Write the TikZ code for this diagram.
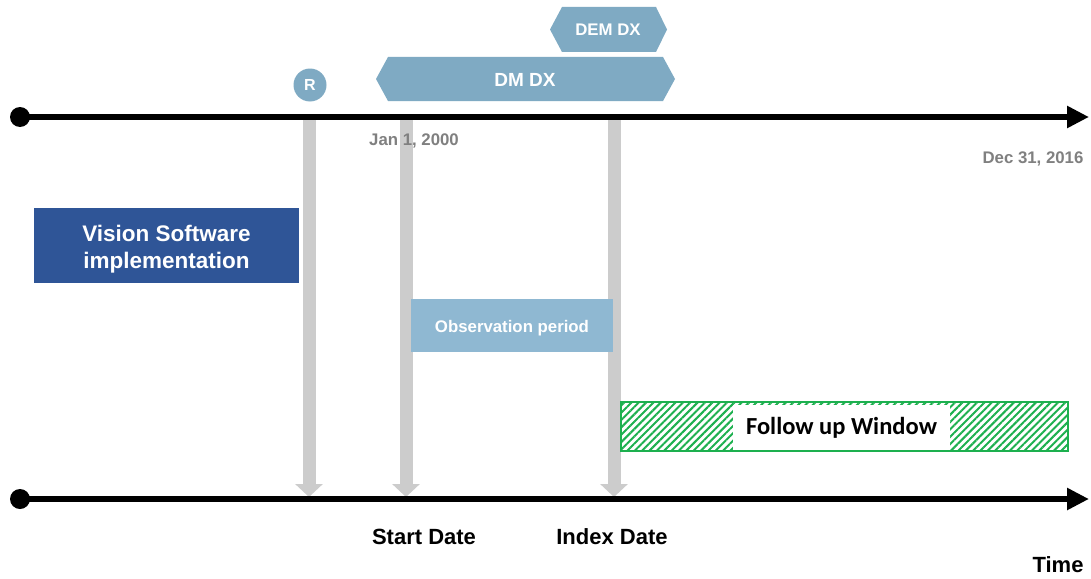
\documentclass[tikz,border=0pt]{standalone}
\usepackage{fontspec}
\setmainfont{Liberation Sans}
\newfontfamily\calib{Carlito}
\usetikzlibrary{arrows.meta,patterns.meta}
\definecolor{hexBlue}{HTML}{7FAAC3}
\definecolor{obsBlue}{HTML}{8FB8D2}
\definecolor{visBlue}{HTML}{2F5597}
\definecolor{barGray}{HTML}{CCCCCC}
\definecolor{txtGray}{HTML}{808080}
\definecolor{fuGreen}{HTML}{1DB04F}
\tikzset{
  axisline/.style={line width=6pt, draw=black, -{Triangle[length=22pt,width=21pt]}},
  dotnode/.style={circle, fill=black, minimum size=20pt, inner sep=0pt},
  grayarrow/.style={draw=barGray, line width=13pt, -{Triangle[length=13pt,width=27pt]}},
  hexshape/.style={fill=hexBlue},
  whitelbl/.style={text=white, font=\bfseries\fontsize{#1}{#1}\selectfont, inner sep=0pt},
  graylbl/.style={text=txtGray, font=\bfseries\fontsize{16.8}{16.8}\selectfont, inner sep=0pt},
  datelbl/.style={text=black, font=\bfseries\fontsize{22}{22}\selectfont, inner sep=0pt},
}
\begin{document}
\begin{tikzpicture}[x=1pt,y=-1pt]
\path[use as bounding box, fill=white] (0,0) rectangle (1091,578);

% gray vertical arrows
\coordinate (g1t) at (309,118);
\coordinate (g1b) at (309,497);
\coordinate (g2t) at (406,118);
\coordinate (g2b) at (406,497);
\coordinate (g3t) at (614,118);
\coordinate (g3b) at (614,497);
\draw[grayarrow] (g1t) -- (g1b);
\draw[grayarrow] (g2t) -- (g2b);
\draw[grayarrow] (g3t) -- (g3b);

% axes
\node[dotnode] (d1) at (20,117) {};
\coordinate (a1) at (1089,117);
\draw[axisline] (d1.center) -- (a1);
\node[dotnode] (d2) at (20,499) {};
\coordinate (a2) at (1089,499);
\draw[axisline] (d2.center) -- (a2);

% R circle
\node[circle, fill=hexBlue, minimum size=33pt, inner sep=0pt, text=white,
      font=\bfseries\fontsize{16}{16}\selectfont] (r) at (310,85) {R};

% hexagons
\fill[hexshape] (376,79) -- (388,57) -- (663,57) -- (675,79) -- (663,101) -- (388,101) -- cycle;
\node[whitelbl=19] (dm) at (525,80) {DM DX};
\fill[hexshape] (550,29.5) -- (562,7) -- (656,7) -- (667,29.5) -- (656,52) -- (562,52) -- cycle;
\node[whitelbl=16.8] (dem) at (608,30) {DEM DX};

% date labels on top axis
\node[graylbl] (jan) at (414,141) {Jan 1, 2000};
\node[graylbl] (dec) at (1033,159) {Dec 31, 2016};

% vision software box
\node[fill=visBlue, minimum width=265pt, minimum height=75pt, inner sep=0pt]
      (vis) at (166.5,245.5) {};
\node[text=white, align=center, inner sep=0pt, font=\bfseries\fontsize{22.5}{27}\selectfont]
      (vistxt) at (166.5,249) {Vision Software\\implementation};

% observation period
\node[fill=obsBlue, minimum width=202pt, minimum height=53pt, inner sep=0pt]
      (obs) at (512,325.5) {};
\node[text=white, inner sep=0pt, font=\bfseries\fontsize{16.8}{16.8}\selectfont]
      (obstxt) at (512,328) {Observation period};

% follow up window
\node[draw=fuGreen, line width=1.5pt, minimum width=447pt, minimum height=49pt, inner sep=0pt,
      pattern={Lines[angle=45,distance=5.2pt,line width=2pt]}, pattern color=fuGreen]
      (fu) at (844.5,426.5) {};
\node[fill=white, minimum width=217pt, minimum height=45pt, inner sep=0pt,
      font=\calib\bfseries\fontsize{24.5}{24.5}\selectfont]
      (fut) at (841.5,427.5) {Follow up Window};

% bottom labels
\node[datelbl] (start) at (424,537) {Start Date};
\node[datelbl] (index) at (612,537) {Index Date};
\node[datelbl] (time) at (1058,565) {Time};
\end{tikzpicture}
\end{document}
